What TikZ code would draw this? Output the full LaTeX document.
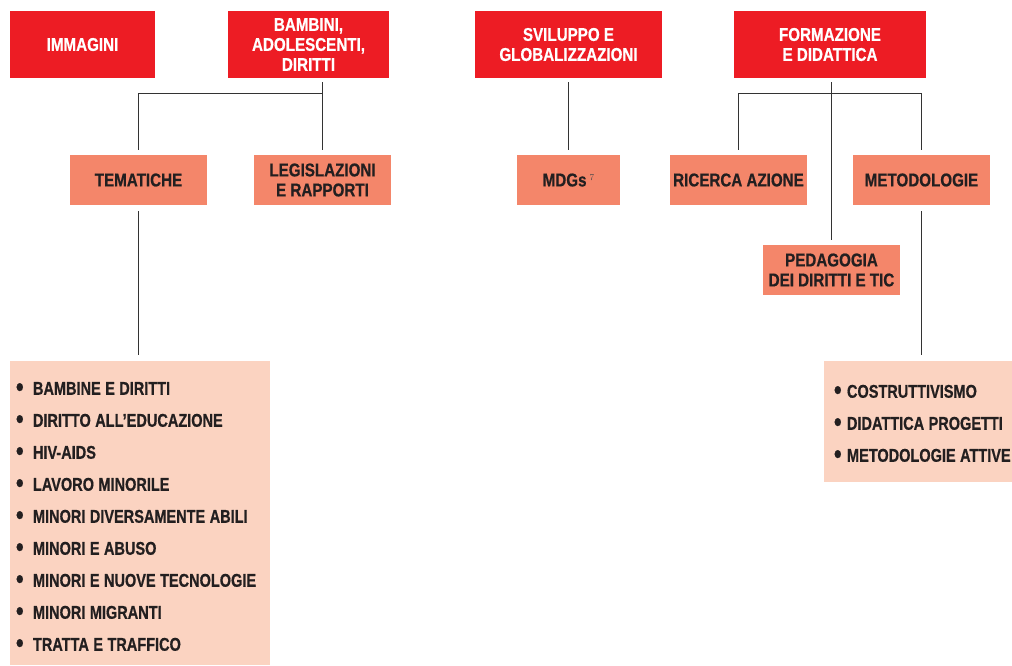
\documentclass[tikz,border=0pt]{standalone}
\usepackage{fontspec}
\newfontfamily\hf[FakeStretch=0.82, BoldFeatures={FakeBold=0.6}]{Liberation Sans}
\newfontfamily\lf[FakeStretch=0.785, BoldFeatures={FakeBold=0.6}]{Liberation Sans}
\definecolor{hdred}{HTML}{ED1C24}
\definecolor{salmon}{HTML}{F4866A}
\definecolor{peach}{HTML}{FBD3C1}
\definecolor{ink}{HTML}{231F20}
\definecolor{conncol}{HTML}{333333}
\newcommand{\listsetup}{\spaceskip=0.24em\relax}
\newcommand{\bul}[1]{\mbox{\makebox[22pt][l]{\hspace{5pt}\raisebox{-1.5pt}{\scalebox{1.5}{•}}}#1}}
\newcommand{\bulr}[1]{\mbox{\makebox[22pt][l]{\hspace{9pt}\raisebox{-1.5pt}{\scalebox{1.5}{•}}}#1}}
\begin{document}
\begin{tikzpicture}[x=1pt,y=-1pt,
  hdbox/.style={rectangle, fill=hdred, text=white, minimum height=67pt, inner sep=0pt, align=center,
    font=\hf\bfseries\fontsize{18.5}{20}\selectfont},
  subbox/.style={rectangle, fill=salmon, text=ink, minimum width=137pt, minimum height=50pt, inner sep=0pt, align=center,
    font=\hf\bfseries\fontsize{18.5}{20}\selectfont},
  listbox/.style={rectangle, fill=peach, text=ink, inner ysep=0pt, inner xsep=1pt, align=left,
    font=\lf\bfseries\fontsize{18.5}{32}\selectfont},
  conn/.style={draw=conncol, line width=1.1pt}
]
\useasboundingbox (0,0) rectangle (1012,665);
% headers
\node[hdbox, minimum width=145pt] (imm) at (82.5,44.5) {IMMAGINI};
\node[hdbox, minimum width=161pt] (bam) at (308.5,44.5) {BAMBINI,\\ADOLESCENTI,\\DIRITTI};
\node[hdbox, minimum width=187pt] (svi) at (568.5,44.5) {SVILUPPO E\\GLOBALIZZAZIONI};
\node[hdbox, minimum width=192pt] (for) at (830,44.5) {FORMAZIONE\\E DIDATTICA};
% second level
\node[subbox] (tem) at (138.5,180) {TEMATICHE};
\node[subbox] (leg) at (322.5,180) {LEGISLAZIONI\\E RAPPORTI};
\node[subbox, minimum width=103pt] (mdg) at (568.5,180) {MDGs\,\raisebox{6pt}{\rmfamily\mdseries\color{ink!80}\fontsize{9}{9}\selectfont 7}};
\node[subbox] (ric) at (738.5,180) {RICERCA AZIONE};
\node[subbox] (met) at (921.5,180) {METODOLOGIE};
\node[subbox] (ped) at (831.5,270) {PEDAGOGIA\\DEI DIRITTI E TIC};
% lists
\node[listbox, minimum width=260pt, minimum height=304pt, text width=258pt] (l1) at (140,513) {\listsetup
\rule{0pt}{21pt}\bul{BAMBINE E DIRITTI}\\
\bul{DIRITTO ALL’EDUCAZIONE}\\
\bul{HIV-AIDS}\\
\bul{LAVORO MINORILE}\\
\bul{MINORI DIVERSAMENTE ABILI}\\
\bul{MINORI E ABUSO}\\
\bul{MINORI E NUOVE TECNOLOGIE}\\
\bul{MINORI MIGRANTI}\\
\bul{TRATTA E TRAFFICO}};
\node[listbox, minimum width=188pt, minimum height=121pt, text width=186pt] (l2) at (918,421.5) {\listsetup
\rule{0pt}{18pt}\bulr{COSTRUTTIVISMO}\\
\bulr{DIDATTICA PROGETTI}\\
\bulr{METODOLOGIE ATTIVE}};
% connectors
\coordinate (bj) at ([yshift=-15pt]bam.south);
\coordinate (fj) at ([yshift=-15pt]for.south);
\draw[conn, shorten <=4pt, shorten >=5pt] (bam.south -| leg.north) -- (leg.north);
\draw[conn, shorten <=5pt] (tem.north) -- (tem.north |- bj) -- (leg.north |- bj);
\draw[conn, shorten <=4pt, shorten >=5pt] (svi.south) -- (mdg.north);
\draw[conn, shorten <=4pt, shorten >=5pt] (for.south -| ped.north) -- (ped.north);
\draw[conn, shorten <=5pt, shorten >=5pt] (ric.north) -- (ric.north |- fj) -- (met.north |- fj) -- (met.north);
\draw[conn, shorten <=6pt, shorten >=6pt] (tem.south) -- (tem.south |- l1.north);
\draw[conn, shorten <=6pt, shorten >=6pt] (met.south) -- (met.south |- l2.north);
\end{tikzpicture}
\end{document}
